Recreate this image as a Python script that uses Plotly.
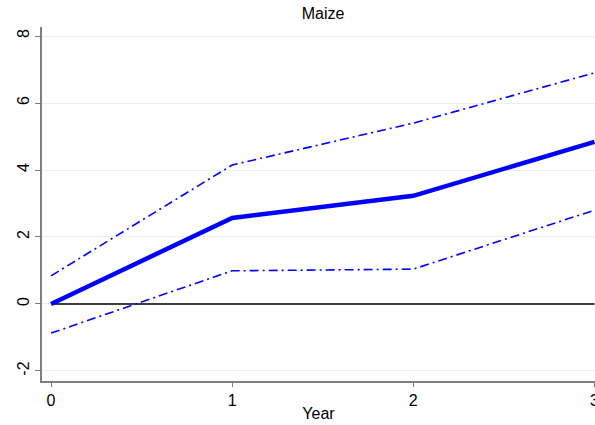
import plotly.graph_objects as go

years = [0, 1, 2, 3]
estimate = [0.0, 2.57, 3.23, 4.84]
upper_ci = [0.84, 4.15, 5.40, 6.90]
lower_ci = [-0.87, 0.99, 1.04, 2.80]
zero_line = [0, 0, 0, 0]
y_ticks = [-2, 0, 2, 4, 6, 8]
y_tick_text = ["-2", "0", "2", "4", "6", "8"]
x_ticks = [0, 1, 2, 3]

fig = go.Figure()
fig.add_trace(go.Scatter(x=years, y=zero_line, mode="lines",
                         line=dict(color="black", width=1.5), showlegend=False))
fig.add_trace(go.Scatter(x=years, y=upper_ci, mode="lines",
                         line=dict(color="#0000ff", width=1.6, dash="9px,4px,2px,4px"), showlegend=False))
fig.add_trace(go.Scatter(x=years, y=lower_ci, mode="lines",
                         line=dict(color="#0000ff", width=1.6, dash="9px,4px,2px,4px"), showlegend=False))
fig.add_trace(go.Scatter(x=years, y=estimate, mode="lines",
                         line=dict(color="#0000ff", width=4.5), showlegend=False))

font = dict(family="Liberation Sans, Arial, sans-serif", color="black", size=16)
fig.update_layout(
    width=595, height=425,
    margin=dict(l=42, r=0, t=27, b=44, autoexpand=False),
    paper_bgcolor="white", plot_bgcolor="white",
    font=font,
    title=dict(text="Maize", x=323/595, xanchor="center", xref="container",
               y=1 - 13/425, yanchor="middle", font=dict(size=16)),
    xaxis=dict(range=[-0.05, 3.003], tickvals=x_ticks, showgrid=False, zeroline=False,
               showline=True, linecolor="#7f7f7f", linewidth=1.5,
               ticks="outside", ticklen=4, tickcolor="#7f7f7f", tickwidth=1.2,
               ticklabeloverflow="allow", automargin=False,
               title=dict(text="Year", standoff=0, font=dict(size=16)), tickfont=dict(size=16)),
    yaxis=dict(range=[-2.3, 8.27], tickvals=y_ticks, ticktext=y_tick_text,
               showgrid=True, gridcolor="#e8f0f1", gridwidth=1.2,
               zeroline=False, showline=True, linecolor="#7f7f7f", linewidth=1.5,
               ticks="outside", ticklen=5, tickcolor="#7f7f7f", tickwidth=1.2,
               tickangle=-90, tickfont=dict(size=16), automargin=False),
)
fig.write_html("out.html")
